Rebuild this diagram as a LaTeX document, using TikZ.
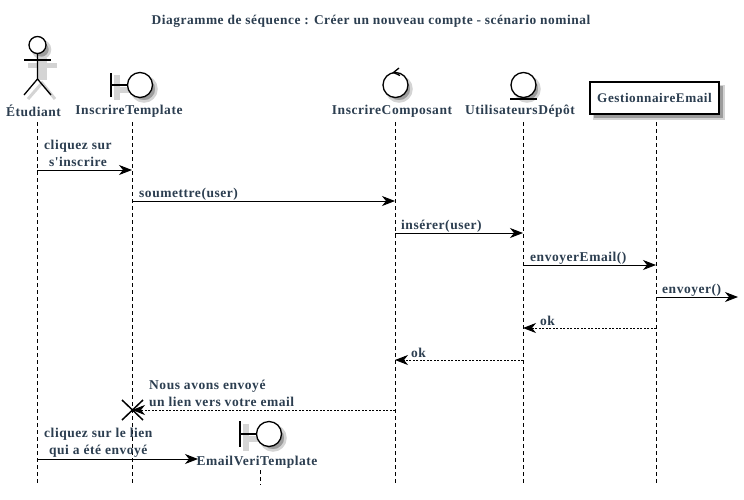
\documentclass[tikz,border=0pt]{standalone}
\usepackage{fontspec}
\setmainfont[LetterSpace=4,Ligatures=TeXOff]{Liberation Serif}
\usetikzlibrary{arrows.meta,scopes}
\definecolor{ink}{HTML}{2C3E50}
\definecolor{shdw}{HTML}{9C9C9C}
\definecolor{halo}{HTML}{D4D4D4}
\begin{document}
\begin{tikzpicture}[
    x=1pt,y=-1pt,
    lbl/.style={font=\bfseries\fontsize{13.5pt}{17pt}\selectfont,text=ink,inner sep=0pt,align=center},
    title/.style={lbl,font=\bfseries\fontsize{13.4pt}{15pt}\selectfont},
    life/.style={dash pattern=on 4pt off 3pt,thin,black},
    msg/.style={-{Stealth[length=13pt,width=10pt,inset=4pt]},line width=0.9pt},
    reply/.style={msg,dash pattern=on 2pt off 1.5pt},
    sym/.style={draw=black,line width=1.3pt},
    shad/.style={draw=halo,line width=3pt},
    glow/.style={draw=halo,line width=2.5pt,fill=shdw},
]
	\useasboundingbox (0,0) rectangle (744,499);
	\fill[white] (0,0) rectangle (744,499);
	\node [title] (diagTitle) at (371,21.5) {Diagramme de séquence : Créer un nouveau compte - scénario nominal};

	% lifelines
	\coordinate (etuTop) at (37,122);      \coordinate (etuEnd) at (37,485);
	\coordinate (tplTop) at (132,122);     \coordinate (tplEnd) at (132,485);
	\coordinate (cmpTop) at (395,122);     \coordinate (cmpEnd) at (395,485);
	\coordinate (depTop) at (523,122);     \coordinate (depEnd) at (523,485);
	\coordinate (gesTop) at (656,122);     \coordinate (gesEnd) at (656,485);
	\coordinate (verTop) at (260,470);     \coordinate (verEnd) at (260,485);
	\foreach \ll in {etu,tpl,cmp,dep,ges,ver}
		\draw [life] (\ll Top) -- (\ll End);

	% actor
	\draw [glow] (41.5,49.5) circle (8.5);
	\draw [halo,line width=5pt] (28,65.5)--(57,65.5);
	\draw [halo,line width=10pt] (42,58)--(42,80);
	{[shad]
	\draw (28,99)--(42,83)--(55,99);
	}
	{[sym]
	\draw [fill=white] (37.5,45) circle (8.5);
	\draw (37.5,53.5)--(37.5,79)--(24,95);
	\draw (37.5,79)--(51,95);
	\draw (24,60)--(51,60);
	}
	\node [lbl] (etudiant) at (33.5,111) {Étudiant};

	% boundary
	\fill [halo] (114,75) rectangle (120,100);
	\fill [halo] (115,87) rectangle (135,93);
	\draw [glow] (144,89) circle (12.5);
	{[sym]
	\draw (111,73)--(111,97);
	\draw (111,85)--(127.5,85);
	\draw [fill=white] (140,85) circle (12.5);
	}
	\node [lbl] (inscrireTemplate) at (129,111) {InscrireTemplate};

	% control
	\draw [glow] (399,89) circle (12.5);
	{[sym]
	\draw [fill=white] (395.5,85) circle (12.5);
	\draw (399,68)--(393.5,72.5)--(400,75.5);
	}
	\node [lbl] (inscrireComposant) at (392,111) {InscrireComposant};

	% entity
	\draw [glow] (527,89) circle (12.5);
	{[sym]
	\draw [fill=white] (523.5,85) circle (12.5);
	\draw (510,99)--(537,99);
	}
	\node [lbl] (utilisateursDepot) at (520,111) {UtilisateursDépôt};

	% box
	\fill [halo] (593,85) rectangle (725,120);
	\fill [shdw] (594,86) rectangle (723,118);
	\node [draw=black,line width=1.1pt,fill=white,minimum width=129pt,minimum height=32pt,inner sep=0pt,
		font=\bfseries\fontsize{13.2pt}{15pt}\selectfont,text=ink] (gestionnaire) at (654.5,98) {GestionnaireEmail};

	% messages
	\coordinate (m1a) at (37,170);   \coordinate (m1b) at (132,170);
	\coordinate (m2a) at (132,201);  \coordinate (m2b) at (395,201);
	\coordinate (m3a) at (395,233);  \coordinate (m3b) at (523,233);
	\coordinate (m4a) at (523,265);  \coordinate (m4b) at (656,265);
	\coordinate (m5a) at (656,297);  \coordinate (m5b) at (738,297);
	\coordinate (m6a) at (656,328);  \coordinate (m6b) at (523,328);
	\coordinate (m7a) at (523,360);  \coordinate (m7b) at (395,360);
	\coordinate (m8a) at (395,410);  \coordinate (m8b) at (132,410);
	\coordinate (m9a) at (37,459);   \coordinate (m9b) at (198,459);

	\draw [msg] (m1a) -- (m1b);
	\draw [msg] (m2a) -- (m2b);
	\draw [msg] (m3a) -- (m3b);
	\draw [msg] (m4a) -- (m4b);
	\draw [msg] (m5a) -- (m5b);
	\draw [reply] (m6a) -- (m6b);
	\draw [reply] (m7a) -- (m7b);
	\draw [reply] (m8a) -- (m8b);
	\draw [msg] (m9a) -- (m9b);

	% destroy
	\draw [line width=1.5pt] (122,400)--(143,420);
	\draw [line width=1.5pt] (122,420)--(143,400);

	% created participant
	\fill [halo] (243,424) rectangle (249,451);
	\fill [halo] (244,436) rectangle (262,442);
	\draw [glow] (273,438) circle (12.5);
	{[sym]
	\draw (240,421)--(240,447);
	\draw (240,434)--(256.5,434);
	\draw [fill=white] (269,434) circle (12.5);
	}
	\node [lbl] (emailVeri) at (257,462) {EmailVeriTemplate};

	% message labels
	\node [lbl,anchor=west] (l1) at (44,153) {cliquez sur\\s'inscrire};
	\node [lbl,anchor=west] (l2) at (139,194) {soumettre(user)};
	\node [lbl,anchor=west] (l3) at (401,226) {insérer(user)};
	\node [lbl,anchor=west] (l4) at (530,258) {envoyerEmail()};
	\node [lbl,anchor=west] (l5) at (662,290) {envoyer()};
	\node [lbl,anchor=west] (l6) at (540,321) {ok};
	\node [lbl,anchor=west] (l7) at (411,353) {ok};
	\node [lbl,anchor=west,align=left] (l8) at (149,393) {Nous avons envoyé\\un lien vers votre email};
	\node [lbl,anchor=west] (l9) at (44,443) {cliquez sur le lien\\qui a été envoyé};
\end{tikzpicture}
\end{document}
